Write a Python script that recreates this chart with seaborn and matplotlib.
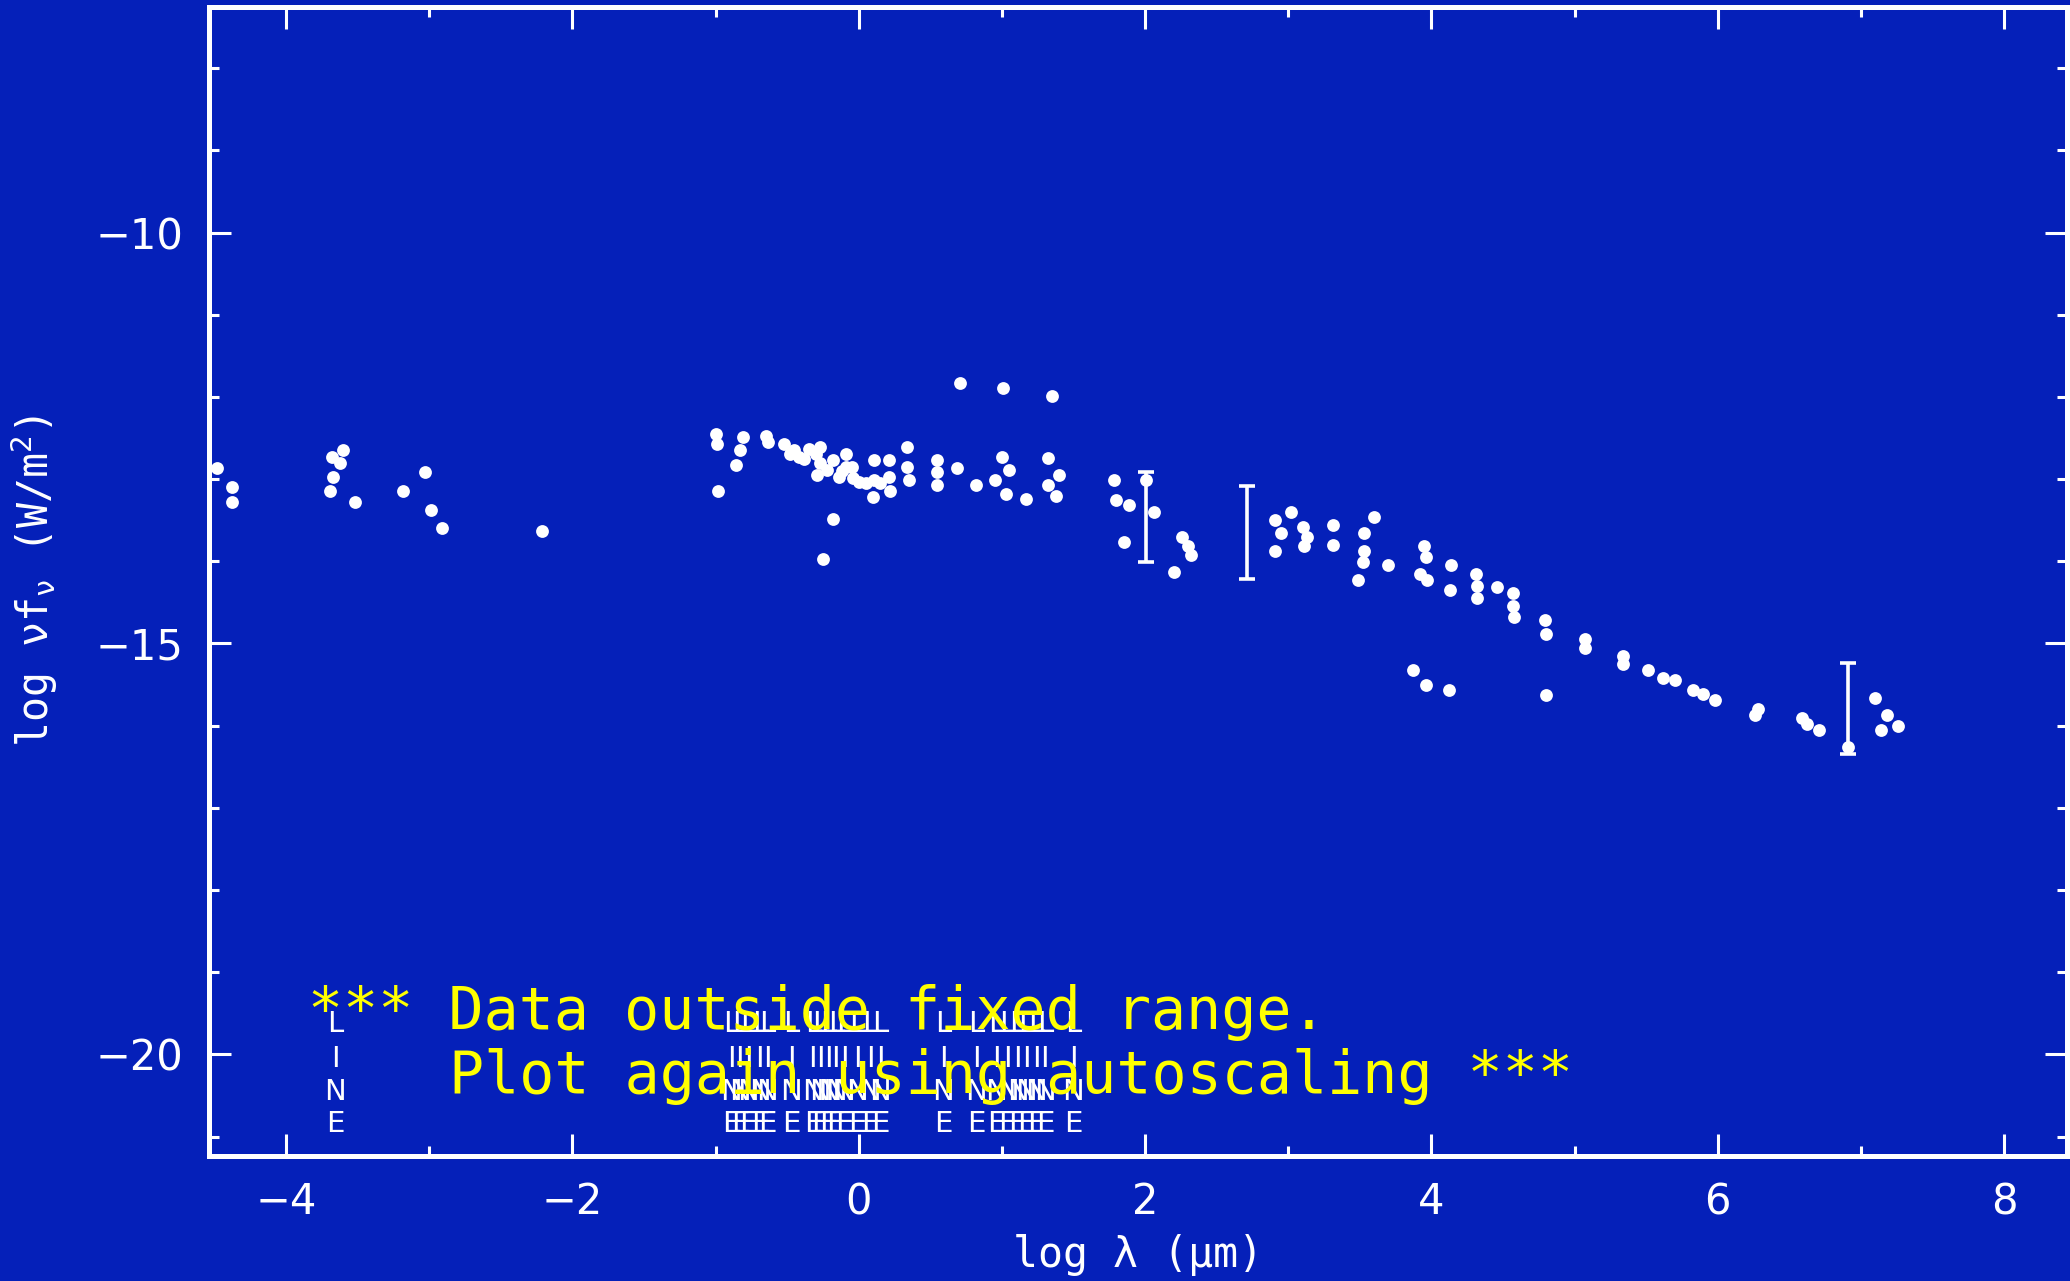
import numpy as np
import pandas as pd
import matplotlib
matplotlib.use("Agg")
import matplotlib.pyplot as plt
import seaborn as sns
from matplotlib.ticker import MultipleLocator

# ---------------- data (log lambda [um], log nu f_nu [W/m^2]) ----------------
uv_x = [-4.48, -4.38, -4.38, -3.60, -3.62, -3.68, -3.67, -3.69, -3.52, -3.18,
        -3.03, -2.99, -2.91, -2.21]
uv_y = [-12.87, -13.10, -13.28, -12.65, -12.81, -12.73, -12.97, -13.14, -13.28,
        -13.14, -12.92, -13.38, -13.60, -13.63]

opt_x = [-1.00, -0.99, -0.98, -0.81, -0.83, -0.86, -0.65, -0.63, -0.52, -0.45,
         -0.42, -0.35, -0.27, -0.27, -0.29, -0.22, -0.18, -0.14, -0.09, -0.09,
         -0.04, 0.00, 0.05, 0.11, 0.11, 0.10, 0.21, 0.21, 0.22, 0.34,
         0.34, 0.35, 0.55, 0.55, 0.55, 0.69, 0.82, 1.00, 1.05, 0.95,
         1.03, 1.17, 1.32, 1.32, 1.40, 1.38, -0.18, -0.25, 0.71, 1.01,
         1.35, -0.48, -0.38, -0.30, -0.12, -0.05, 0.15]
opt_y = [-12.45, -12.57, -13.14, -12.49, -12.65, -12.83, -12.47, -12.55, -12.57, -12.65,
         -12.73, -12.63, -12.61, -12.81, -12.95, -12.89, -12.77, -12.97, -12.69, -12.85,
         -12.99, -13.03, -13.05, -12.77, -13.01, -13.22, -12.77, -12.97, -13.14, -12.61,
         -12.85, -13.01, -12.77, -12.91, -13.07, -12.87, -13.07, -12.73, -12.89, -13.01,
         -13.18, -13.24, -12.74, -13.07, -12.95, -13.20, -13.48, -13.97, -11.83, -11.89,
         -11.99, -12.70, -12.75, -12.70, -12.90, -12.85, -13.05]

ir_x = [1.78, 1.80, 1.89, 1.85, 2.01, 2.06, 2.26, 2.30, 2.32, 2.20,
        2.91, 2.95, 2.91, 3.02, 3.10, 3.13, 3.11, 3.31, 3.31,
        3.60, 3.53, 3.53, 3.52, 3.49, 3.70, 3.95, 3.96, 3.92, 3.97,
        4.14, 4.13, 4.31, 4.32, 4.32, 4.46, 4.57, 4.57, 4.58, 4.79, 4.80]
ir_y = [-13.01, -13.26, -13.32, -13.76, -13.01, -13.40, -13.70, -13.82, -13.93, -14.13,
        -13.50, -13.66, -13.87, -13.40, -13.58, -13.70, -13.82, -13.56, -13.80,
        -13.46, -13.66, -13.87, -14.01, -14.23, -14.05, -13.82, -13.95, -14.15, -14.23,
        -14.05, -14.35, -14.15, -14.30, -14.45, -14.31, -14.39, -14.55, -14.68, -14.72, -14.88]

radio_x = [5.07, 5.07, 5.34, 5.34, 5.51, 5.62, 5.70, 5.83, 5.90, 5.98,
           6.26, 6.28, 6.59, 6.62, 6.71, 6.91, 7.10, 7.18, 7.14, 7.26,
           3.87, 3.96, 4.12, 4.80]
radio_y = [-14.95, -15.05, -15.15, -15.25, -15.32, -15.42, -15.45, -15.57, -15.62, -15.69,
           -15.87, -15.80, -15.91, -15.98, -16.05, -16.26, -15.67, -15.87, -16.05, -16.01,
           -15.32, -15.51, -15.57, -15.63]

# vertical range bars
err_x = [2.01, 2.71, 6.91]
err_lo = [-14.01, -14.21, -16.34]
err_hi = [-12.91, -13.09, -15.24]

# positions of the "LINE" identification labels
line_x = [-3.655, -0.89, -0.83, -0.77, -0.69, -0.64, -0.47, -0.32, -0.27, -0.21,
          -0.16, -0.10, -0.01, 0.08, 0.15, 0.59, 0.82, 0.96, 1.04, 1.11,
          1.17, 1.24, 1.30, 1.50]
line_letters = ["L", "I", "N", "E"]
line_letter_y = [-19.73, -20.15, -20.55, -20.94]

x_ticks = [-4, -2, 0, 2, 4, 6, 8]
y_ticks = [-20, -15, -10]

# ---------------- style ----------------
BLUE = "#0520B9"
MONO = ["DejaVu Sans Mono", "DejaVu Sans"]
SANS = ["DejaVu Sans"]
plt.rcParams["font.family"] = MONO
plt.rcParams["mathtext.fontset"] = "custom"
plt.rcParams["mathtext.rm"] = "DejaVu Sans Mono"
plt.rcParams["mathtext.it"] = "DejaVu Sans Mono"
plt.rcParams["mathtext.bf"] = "DejaVu Sans Mono:bold"

df = pd.DataFrame({
    "x": uv_x + opt_x + ir_x + radio_x,
    "y": uv_y + opt_y + ir_y + radio_y,
})

fig = plt.figure(figsize=(20.7, 12.81), dpi=100, facecolor=BLUE)
ax = fig.add_axes([0.1008, 0.0974, 0.8978, 0.8975])
ax.set_facecolor(BLUE)

sns.scatterplot(data=df, x="x", y="y", ax=ax, color="white", s=85,
                linewidth=0, marker="o", legend=False, zorder=3)

lo = np.array(err_lo)
hi = np.array(err_hi)
ax.errorbar(err_x, (lo + hi) / 2, yerr=(hi - lo) / 2, fmt="none",
            ecolor="white", elinewidth=2.6, capsize=6, capthick=2.6, zorder=3)

# LINE labels
for lx in line_x:
    for letter, ly in zip(line_letters, line_letter_y):
        ax.text(lx, ly, letter, color="white", fontsize=21, family=SANS,
                ha="center", va="baseline", zorder=4)

# warning message
ax.text(-3.846, -19.69, "*** Data outside fixed range.", color="#FFFF00",
        fontsize=42, family=MONO, ha="left", va="baseline", zorder=5)
ax.text(-2.86, -20.47, "Plot again using autoscaling ***", color="#FFFF00",
        fontsize=42, family=MONO, ha="left", va="baseline", zorder=5)

ax.set_xlim(-4.54, 8.44)
ax.set_ylim(-21.24, -7.25)
ax.set_xticks(x_ticks)
ax.set_yticks(y_ticks)
ax.xaxis.set_minor_locator(MultipleLocator(1))
ax.yaxis.set_minor_locator(MultipleLocator(1))

ax.tick_params(which="both", direction="in", top=True, right=True,
               colors="white", labelcolor="white")
ax.tick_params(which="major", length=16, width=2.2, labelsize=30, pad=18)
ax.tick_params(which="minor", length=7, width=2.2)
for lab in ax.get_xticklabels() + ax.get_yticklabels():
    lab.set_family(SANS)
for s in ax.spines.values():
    s.set_color("white")
    s.set_linewidth(3.6)

ax.set_xlabel("log λ (μm)", fontsize=30, color="white", labelpad=8)
ax.set_ylabel(r"log $\nu f_\nu$ (W/m$^2$)", fontsize=30, color="white", labelpad=26)
ax.grid(False)

fig.savefig("out.png", dpi=100, facecolor=BLUE)
